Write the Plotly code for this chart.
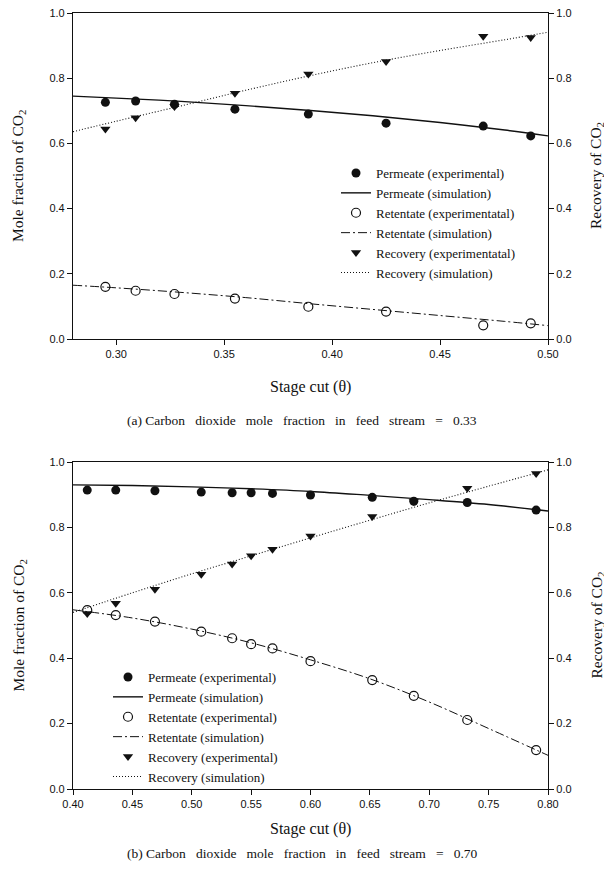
import plotly.graph_objects as go

# ---------------- data: panel (a) feed CO2 = 0.33 ----------------
x_a_exp = [0.295, 0.309, 0.327, 0.355, 0.389, 0.425, 0.470, 0.492]
perm_a_exp = [0.726, 0.730, 0.720, 0.705, 0.690, 0.662, 0.653, 0.623]
ret_a_exp = [0.160, 0.148, 0.138, 0.124, 0.099, 0.084, 0.042, 0.048]
rec_a_exp = [0.644, 0.679, 0.713, 0.754, 0.813, 0.851, 0.929, 0.925]

x_a_sim = [0.28, 0.30, 0.33, 0.36, 0.39, 0.42, 0.45, 0.48, 0.50]
perm_a_sim = [0.745, 0.739, 0.729, 0.716, 0.701, 0.684, 0.664, 0.641, 0.623]
ret_a_sim = [0.165, 0.157, 0.143, 0.127, 0.108, 0.090, 0.072, 0.054, 0.041]
rec_a_sim = [0.636, 0.668, 0.715, 0.763, 0.808, 0.849, 0.885, 0.918, 0.941]

# ---------------- data: panel (b) feed CO2 = 0.70 ----------------
x_b_exp = [0.412, 0.436, 0.469, 0.508, 0.534, 0.550, 0.568, 0.600, 0.652, 0.687, 0.732, 0.790]
perm_b_exp = [0.914, 0.914, 0.912, 0.908, 0.906, 0.906, 0.904, 0.899, 0.892, 0.880, 0.876, 0.853]
ret_b_exp = [0.547, 0.532, 0.512, 0.481, 0.461, 0.443, 0.430, 0.391, 0.333, 0.285, 0.211, 0.119]
rec_b_exp = [0.537, 0.568, 0.611, 0.657, 0.688, 0.713, 0.733, 0.774, 0.833, 0.879, 0.920, 0.965]

x_b_sim = [0.40, 0.45, 0.50, 0.55, 0.60, 0.65, 0.70, 0.75, 0.80]
perm_b_sim = [0.930, 0.928, 0.924, 0.918, 0.910, 0.898, 0.885, 0.870, 0.850]
ret_b_sim = [0.548, 0.523, 0.489, 0.447, 0.395, 0.337, 0.266, 0.185, 0.103]
rec_b_sim = [0.540, 0.600, 0.658, 0.713, 0.768, 0.822, 0.875, 0.926, 0.976]

ticks_a = [0.30, 0.35, 0.40, 0.45, 0.50]
ticks_b = [0.40, 0.45, 0.50, 0.55, 0.60, 0.65, 0.70, 0.75, 0.80]

names_a = ["Permeate (experimental)", "Permeate (simulation)",
           "Retentate (experimentatal)", "Retentate (simulation)",
           "Recovery (experimentatal)", "Recovery (simulation)"]
names_b = ["Permeate (experimental)", "Permeate (simulation)",
           "Retentate (experimental)", "Retentate (simulation)",
           "Recovery (experimental)", "Recovery (simulation)"]

SERIF = "Liberation Serif, Times New Roman, serif"
SANS = "Liberation Sans, Arial, sans-serif"
BLACK = "#111111"

fig = go.Figure()


def add_panel(xe, pe, re_, ce, xs, ps, rs, cs, names, xa, ya, ya2, leg):
    fig.add_trace(go.Scatter(x=xe, y=pe, mode="markers", name=names[0],
                             marker=dict(symbol="circle", size=9, color=BLACK),
                             xaxis=xa, yaxis=ya, legend=leg))
    fig.add_trace(go.Scatter(x=xs, y=ps, mode="lines", name=names[1],
                             line=dict(color=BLACK, width=1.4, shape="spline"),
                             xaxis=xa, yaxis=ya, legend=leg))
    fig.add_trace(go.Scatter(x=xe, y=re_, mode="markers", name=names[2],
                             marker=dict(symbol="circle-open", size=9, color=BLACK,
                                         line=dict(width=1.2, color=BLACK)),
                             xaxis=xa, yaxis=ya, legend=leg))
    fig.add_trace(go.Scatter(x=xs, y=rs, mode="lines", name=names[3],
                             line=dict(color=BLACK, width=1.0, dash="9px,3px,2px,3px",
                                       shape="spline"),
                             xaxis=xa, yaxis=ya, legend=leg))
    fig.add_trace(go.Scatter(x=xe, y=ce, mode="markers", name=names[4],
                             marker=dict(symbol="triangle-down", size=9, color=BLACK),
                             xaxis=xa, yaxis=ya2, legend=leg))
    fig.add_trace(go.Scatter(x=xs, y=cs, mode="lines", name=names[5],
                             line=dict(color=BLACK, width=1.1, dash="1px,2px", shape="spline"),
                             xaxis=xa, yaxis=ya2, legend=leg))


add_panel(x_a_exp, perm_a_exp, ret_a_exp, rec_a_exp,
          x_a_sim, perm_a_sim, ret_a_sim, rec_a_sim, names_a, "x", "y", "y2", "legend")
add_panel(x_b_exp, perm_b_exp, ret_b_exp, rec_b_exp,
          x_b_sim, perm_b_sim, ret_b_sim, rec_b_sim, names_b, "x2", "y3", "y4", "legend2")

# page has an 8px body margin, so the figure is 604x873 placed at (8, 8)
W, H = 604, 873
OFF = 8


def px(xp):
    return (xp - OFF) / W


def py(yp):
    return (H - (yp - OFF)) / H


xdom = [px(73), px(548)]
ydom_a = [py(339), py(13)]
ydom_b = [py(789), py(462)]

tickfont = dict(family=SANS, size=11, color=BLACK)
titlefont = dict(family=SERIF, size=16, color=BLACK)
ytitlefont = dict(family=SERIF, size=15.5, color=BLACK)

common_x = dict(showline=True, linecolor=BLACK, linewidth=1.2, mirror=True,
                ticks="outside", ticklen=5, tickcolor=BLACK, tickformat=".2f",
                tickfont=tickfont, showgrid=False, zeroline=False, automargin=False,
                ticklabeloverflow="allow")
common_y = dict(showline=True, linecolor=BLACK, linewidth=1.2, ticks="outside",
                ticklen=5, tickcolor=BLACK, range=[0, 1], dtick=0.2, tick0=0,
                tickformat=".1f", tickfont=tickfont, showgrid=False, zeroline=False,
                automargin=False, ticklabeloverflow="allow")

legfont = dict(family=SERIF, size=13, color=BLACK)

ann = []
for ycen, xt in [((339 + 13) / 2, 387), ((789 + 462) / 2, 829)]:
    ann.append(dict(text="Mole fraction of CO<sub>2</sub>", textangle=-90,
                    xref="paper", yref="paper", x=px(19), y=py(ycen),
                    xanchor="center", yanchor="middle", showarrow=False, font=ytitlefont))
    ann.append(dict(text="Recovery of CO<sub>2</sub>", textangle=-90,
                    xref="paper", yref="paper", x=px(597), y=py(ycen),
                    xanchor="center", yanchor="middle", showarrow=False, font=ytitlefont))
    ann.append(dict(text="Stage cut (θ)", xref="paper", yref="paper",
                    x=px(310), y=py(xt), xanchor="center", yanchor="middle",
                    showarrow=False, font=titlefont))

ann.append(dict(text="(a) Carbon   dioxide   mole   fraction   in   feed   stream   =   0.33",
                xref="paper", yref="paper", x=px(302), y=py(420), xanchor="center",
                yanchor="middle", showarrow=False,
                font=dict(family=SERIF, size=13.5, color=BLACK)))
ann.append(dict(text="(b) Carbon   dioxide   mole   fraction   in   feed   stream   =   0.70",
                xref="paper", yref="paper", x=px(302), y=py(853), xanchor="center",
                yanchor="middle", showarrow=False,
                font=dict(family=SERIF, size=13.5, color=BLACK)))

fig.update_layout(
    width=W, height=H, margin=dict(l=0, r=0, t=0, b=0, autoexpand=False),
    paper_bgcolor="white", plot_bgcolor="white",
    xaxis=dict(common_x, domain=xdom, anchor="y", range=[0.28, 0.50], tickvals=ticks_a),
    yaxis=dict(common_y, domain=ydom_a, anchor="x"),
    yaxis2=dict(common_y, overlaying="y", side="right", anchor="x"),
    xaxis2=dict(common_x, domain=xdom, anchor="y3", range=[0.40, 0.80], tickvals=ticks_b),
    yaxis3=dict(common_y, domain=ydom_b, anchor="x2"),
    yaxis4=dict(common_y, overlaying="y3", side="right", anchor="x2"),
    legend=dict(x=px(336), y=py(158), xanchor="left", yanchor="top",
                bgcolor="rgba(0,0,0,0)", font=legfont, tracegroupgap=0),
    legend2=dict(x=px(108), y=py(662), xanchor="left", yanchor="top",
                 bgcolor="rgba(0,0,0,0)", font=legfont, tracegroupgap=0),
    annotations=ann,
)

fig.write_html("out.html")
